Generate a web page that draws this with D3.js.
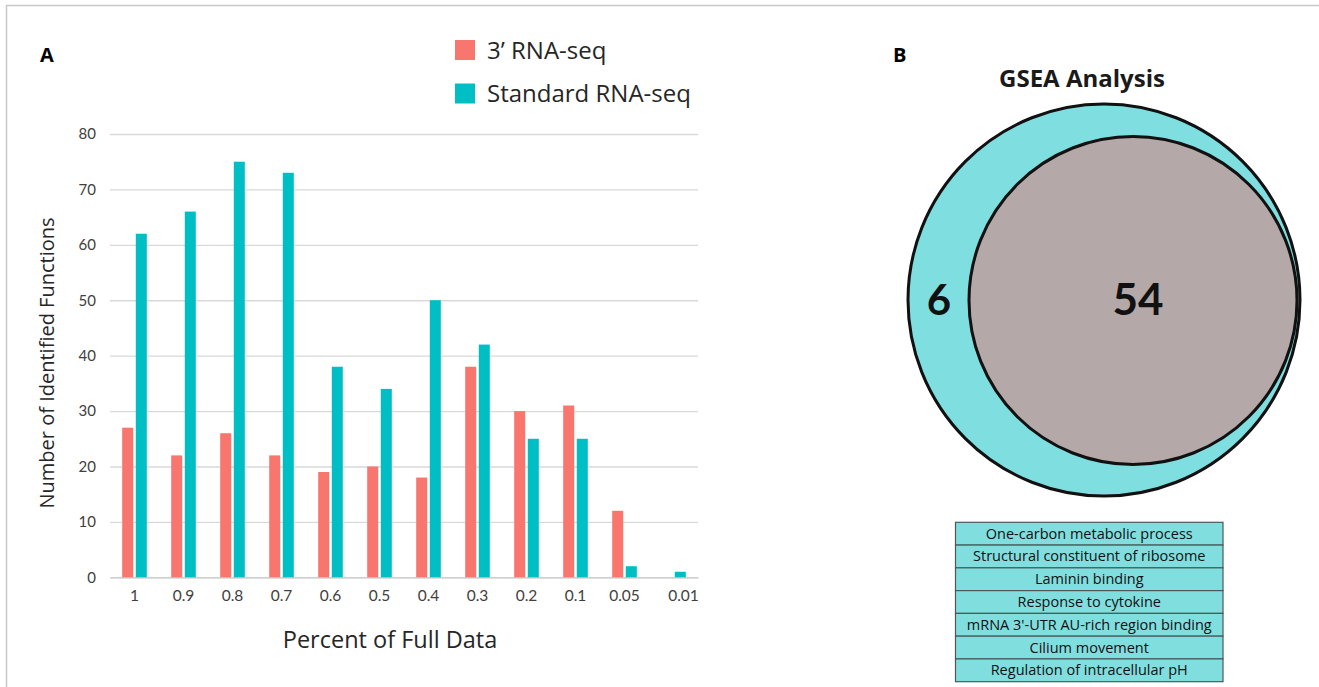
<!DOCTYPE html>
<html>
<head>
<meta charset="utf-8">
<script src="https://cdn.jsdelivr.net/npm/d3@7"></script>
<style>
  body { margin: 0; background: #fff; }
  svg { display: block; font-family: "Open Sans", Lato, sans-serif; }
</style>
</head>
<body>
<div class="canvas"></div>
<script>
const canvasWidth = 1319, canvasHeight = 687;

// panel A data
const categories = ["1", "0.9", "0.8", "0.7", "0.6", "0.5", "0.4", "0.3", "0.2", "0.1", "0.05", "0.01"];
const threePrime = [27, 22, 26, 22, 19, 20, 18, 38, 30, 31, 12, 0];
const standard = [62, 66, 75, 73, 38, 34, 50, 42, 25, 25, 2, 1];
const seriesNames = ["3\u2019 RNA-seq", "Standard RNA-seq"];
const seriesColors = ["#f8766d", "#00bfc4"];
const yTicks = [0, 10, 20, 30, 40, 50, 60, 70, 80];

// panel B data
const vennCounts = [6, 54];
const gseaTerms = [
  "One-carbon metabolic process",
  "Structural constituent of ribosome",
  "Laminin binding",
  "Response to cytokine",
  "mRNA 3'-UTR AU-rich region binding",
  "Cilium movement",
  "Regulation of intracellular pH"
];

const plot = {left: 110, right: 698, top: 134, bottom: 577.3};

const svg = d3.select(".canvas")
  .append("svg")
  .attr("width", canvasWidth)
  .attr("height", canvasHeight);

// outer frame (cut off at right/bottom like the source)
svg.append("rect")
  .attr("x", 6.5).attr("y", 5.5)
  .attr("width", canvasWidth).attr("height", canvasHeight)
  .attr("fill", "none")
  .attr("stroke", "#c8c8c8")
  .attr("stroke-width", 1.5);

// ---------- panel A ----------
svg.append("text")
  .attr("x", 40).attr("y", 62)
  .attr("font-size", 20).attr("font-weight", "bold")
  .text("A");

const xScale = d3.scaleBand()
  .domain(categories)
  .range([plot.left, plot.right]);

const inner = d3.scaleBand()
  .domain([0, 1])
  .range([-12.3, 12.3])
  .paddingInner(0.19);

const yScale = d3.scaleLinear()
  .domain([0, 80])
  .range([plot.bottom, plot.top]);

const yAxis = d3.axisLeft(yScale)
  .tickValues(yTicks)
  .tickSize(-(plot.right - plot.left))
  .tickPadding(14);

const gY = svg.append("g")
  .attr("transform", `translate(${plot.left},0)`)
  .call(yAxis);
gY.select(".domain").remove();
gY.selectAll(".tick line").attr("stroke", "#d9d9d9").attr("stroke-width", 1.3);
gY.selectAll(".tick text")
  .attr("font-family", "Lato, sans-serif")
  .attr("font-size", 15)
  .attr("fill", "#404040");

const xAxis = d3.axisBottom(xScale).tickSize(0).tickPadding(13);
const gX = svg.append("g")
  .attr("transform", `translate(0,${plot.bottom})`)
  .call(xAxis);
gX.select(".domain").attr("stroke", "#d0d0d0").attr("stroke-width", 1.5);
gX.selectAll(".tick text")
  .attr("font-family", "Lato, sans-serif")
  .attr("font-size", 15.5)
  .attr("fill", "#404040")
  .attr("dx", (d, i) => i === categories.length - 1 ? 10 : 0);

const series = [threePrime, standard];
series.forEach((values, s) => {
  svg.append("g")
    .selectAll("rect")
    .data(values)
    .enter()
    .append("rect")
    .attr("x", (d, i) => xScale(categories[i]) + xScale.bandwidth() / 2 + inner(s))
    .attr("y", d => yScale(d))
    .attr("width", inner.bandwidth())
    .attr("height", d => yScale(0) - yScale(d))
    .attr("fill", seriesColors[s]);
});

// legend
const legend = svg.append("g").attr("transform", "translate(455,40)");
seriesNames.forEach((name, i) => {
  legend.append("rect")
    .attr("x", 0).attr("y", i * 43.5)
    .attr("width", 20).attr("height", 20)
    .attr("fill", seriesColors[i]);
  legend.append("text")
    .attr("x", 32).attr("y", i * 43.5 + 18.5)
    .attr("font-size", 24)
    .attr("fill", "#262626")
    .text(name);
});

svg.append("text")
  .attr("transform", `translate(54,363) rotate(-90)`)
  .attr("text-anchor", "middle")
  .attr("font-size", 20)
  .attr("fill", "#262626")
  .text("Number of Identified Functions");

svg.append("text")
  .attr("x", 390)
  .attr("y", 648)
  .attr("text-anchor", "middle")
  .attr("font-size", 23.5)
  .attr("fill", "#262626")
  .text("Percent of Full Data");

// ---------- panel B ----------
svg.append("text")
  .attr("x", 893).attr("y", 62)
  .attr("font-size", 20).attr("font-weight", "bold")
  .text("B");

svg.append("text")
  .attr("x", 1082).attr("y", 87)
  .attr("text-anchor", "middle")
  .attr("font-size", 24).attr("font-weight", "bold")
  .attr("fill", "#1a1a1a")
  .text("GSEA Analysis");

// outer set (all 60) and inner set (shared 54)
const venn = [
  {cx: 1104, cy: 300, r: 196, fill: "#7fdedf"},
  {cx: 1133, cy: 300.5, r: 164, fill: "#b5a8a8"}
];
svg.append("g")
  .selectAll("circle")
  .data(venn)
  .enter()
  .append("circle")
  .attr("cx", d => d.cx)
  .attr("cy", d => d.cy)
  .attr("r", d => d.r)
  .attr("fill", d => d.fill)
  .attr("stroke", "#111")
  .attr("stroke-width", 3);

svg.append("text")
  .attr("x", 939).attr("y", 315)
  .attr("text-anchor", "middle")
  .attr("font-family", "Lato, sans-serif")
  .attr("font-size", 42).attr("font-weight", "bold")
  .attr("fill", "#111")
  .text(vennCounts[0]);

svg.append("text")
  .attr("x", 1138).attr("y", 315)
  .attr("text-anchor", "middle")
  .attr("font-family", "Lato, sans-serif")
  .attr("font-size", 44).attr("font-weight", "bold")
  .attr("fill", "#111")
  .text(vennCounts[1]);

// term table
const table = {x: 955.5, y: 522.3, w: 267.5, rowH: 22.77};
const rows = svg.append("g")
  .selectAll("g")
  .data(gseaTerms)
  .enter()
  .append("g")
  .attr("transform", (d, i) => `translate(${table.x},${table.y + i * table.rowH})`);

rows.append("rect")
  .attr("width", table.w)
  .attr("height", table.rowH)
  .attr("fill", "#80dedf")
  .attr("stroke", "#4a5a5a")
  .attr("stroke-width", 1.2);

rows.append("text")
  .attr("x", table.w / 2)
  .attr("y", table.rowH / 2 + 5)
  .attr("text-anchor", "middle")
  .attr("font-size", 14.5)
  .attr("fill", "#111")
  .text(d => d);
</script>
</body>
</html>
